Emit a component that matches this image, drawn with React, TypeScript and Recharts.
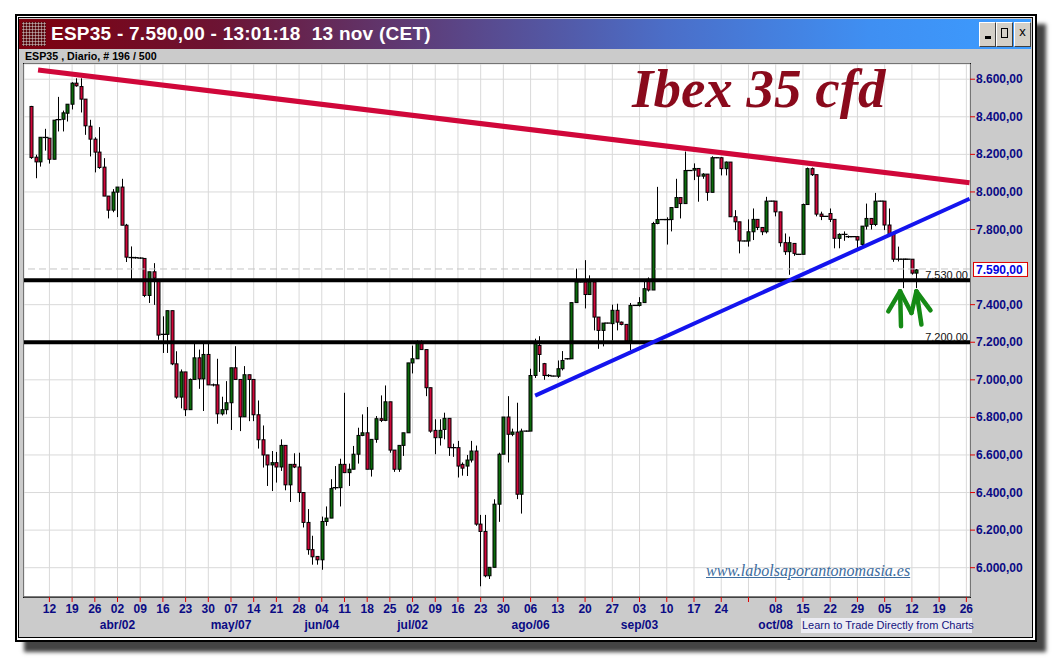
import React from 'react';
import { ComposedChart, Bar, XAxis, YAxis, CartesianGrid, ReferenceLine } from 'recharts';

// daily candles, bar 0 = 6 mar; from August the CFD also prints a short sunday bar
const opens = [
  8455, 8185, 8160, 8290, 8286, 8174, 8385, 8387, 8419, 8467,
  8579, 8561, 8494, 8350, 8281, 8212, 8132, 7978, 7903, 7999,
  8026, 7823, 7651, 7650, 7648, 7646, 7449, 7575, 7533, 7242,
  7242, 7368, 7085, 6908, 7042, 6841, 7002, 7117, 7005, 7135,
  6973, 6973, 6819, 6841, 6878, 7064, 7002, 6803, 7027, 7002,
  6814, 6681, 6600, 6547, 6559, 6536, 6651, 6441, 6550, 6536,
  6400, 6241, 6096, 6060, 6042, 6246, 6264, 6421, 6426, 6550,
  6506, 6524, 6604, 6704, 6718, 6524, 6683, 6793, 6784, 6883,
  6626, 6524, 6651, 6718, 7090, 7112, 7196, 7161, 6958, 6731,
  6692, 6736, 6795, 6639, 6639, 6550, 6541, 6573, 6621, 6232,
  6193, 5957, 6002, 6338, 6604, 6802, 6710, 6722, 6391, 6727,
  6727, 7023, 7183, 7086, 7023, 7020, 7019, 7059, 7112, 7112,
  7411, 7521, 7521, 7454, 7521, 7334, 7263, 7302, 7299, 7370,
  7307, 7295, 7206, 7396, 7396, 7411, 7535, 7478, 7832, 7853,
  7853, 7853, 7917, 7970, 7938, 8114, 8116, 8125, 8084, 8095,
  7998, 8182, 8182, 8124, 8159, 7868, 7841, 7739, 7739, 7788,
  7854, 7811, 7788, 7951, 7951, 7894, 7730, 7682, 7726, 7668,
  7668, 7933, 8124, 8092, 7882, 7870, 7885, 7854, 7753, 7768,
  7762, 7762, 7762, 7721, 7818, 7859, 7827, 7951, 7951, 7824,
  7779, 7642, 7642, 7642, 7642, 7568,
];
const highs = [
  8458, 8198, 8291, 8336, 8286, 8382, 8506, 8433, 8467, 8584,
  8605, 8605, 8494, 8384, 8291, 8345, 8180, 7978, 8015, 8026,
  8070, 7830, 7710, 7655, 7652, 7646, 7575, 7621, 7533, 7338,
  7368, 7368, 7152, 7055, 7042, 7007, 7196, 7161, 7196, 7196,
  6980, 7112, 6910, 6993, 7064, 7179, 7002, 7073, 7027, 7002,
  6890, 6757, 6600, 6621, 6616, 6683, 6651, 6550, 6609, 6612,
  6400, 6312, 6170, 6060, 6272, 6326, 6471, 6541, 6580, 6931,
  6554, 6648, 6745, 6816, 6855, 6683, 6807, 6917, 6970, 6883,
  6626, 6651, 6718, 7090, 7182, 7210, 7210, 7161, 6958, 6790,
  6790, 6825, 6795, 6660, 6675, 6560, 6600, 6675, 6650, 6281,
  6281, 6002, 6364, 6612, 6802, 6913, 6740, 6878, 6740, 6730,
  7059, 7219, 7232, 7090, 7030, 7022, 7103, 7153, 7115, 7411,
  7592, 7523, 7637, 7556, 7521, 7334, 7302, 7304, 7400, 7405,
  7310, 7295, 7409, 7398, 7440, 7521, 7545, 7841, 8027, 7855,
  7865, 7917, 8070, 7970, 8215, 8116, 8152, 8125, 8100, 8095,
  8190, 8184, 8185, 8162, 8159, 7903, 7841, 7741, 7854, 7912,
  7854, 7811, 7974, 7953, 7951, 7894, 7779, 7762, 7726, 7670,
  7938, 8130, 8130, 8092, 7895, 7872, 7912, 7854, 7780, 7790,
  7768, 7764, 7765, 7818, 7938, 7860, 7995, 7953, 7951, 7912,
  7779, 7709, 7645, 7644, 7642, 7590,
];
const lows = [
  8176, 8073, 8135, 8220, 8151, 8174, 8322, 8322, 8375, 8439,
  8560, 8423, 8304, 8189, 8104, 8123, 7978, 7859, 7892, 7866,
  7823, 7627, 7533, 7645, 7644, 7440, 7409, 7399, 7213, 7143,
  7143, 7078, 6899, 6848, 6807, 6841, 7002, 6952, 6834, 6973,
  6965, 6766, 6810, 6816, 6733, 7002, 6727, 6803, 6780, 6780,
  6634, 6533, 6435, 6408, 6453, 6515, 6412, 6350, 6530, 6350,
  6214, 6069, 6016, 6016, 5989, 6223, 6264, 6415, 6326, 6506,
  6435, 6524, 6554, 6700, 6524, 6485, 6665, 6775, 6780, 6612,
  6510, 6510, 6595, 6718, 7034, 7112, 7161, 6913, 6718, 6604,
  6650, 6683, 6595, 6590, 6480, 6490, 6488, 6560, 6223, 5901,
  5949, 5940, 6002, 6244, 6604, 6560, 6700, 6365, 6288, 6724,
  6727, 7010, 7042, 7000, 7015, 7018, 7010, 7050, 7108, 7112,
  7411, 7519, 7380, 7454, 7263, 7165, 7178, 7300, 7210, 7263,
  7290, 7192, 7157, 7394, 7390, 7411, 7470, 7478, 7828, 7851,
  7720, 7790, 7917, 7859, 7938, 8112, 8063, 7948, 8070, 7953,
  7998, 8180, 8088, 8088, 7868, 7797, 7673, 7737, 7709, 7744,
  7797, 7770, 7779, 7949, 7870, 7709, 7665, 7559, 7660, 7666,
  7668, 7933, 8085, 7870, 7850, 7868, 7840, 7700, 7700, 7740,
  7755, 7760, 7700, 7709, 7800, 7800, 7818, 7949, 7797, 7760,
  7628, 7630, 7488, 7640, 7560, 7488,
];
const closes = [
  8183, 8160, 8291, 8290, 8174, 8382, 8385, 8421, 8467, 8579,
  8565, 8494, 8352, 8281, 8212, 8130, 7978, 7903, 7999, 8026,
  7823, 7653, 7651, 7648, 7648, 7449, 7575, 7541, 7238, 7242,
  7368, 7085, 6908, 7042, 6841, 7002, 7117, 7005, 7135, 6973,
  6973, 6819, 6841, 6878, 7064, 7002, 6803, 7027, 7002, 6814,
  6681, 6600, 6547, 6559, 6536, 6651, 6441, 6550, 6536, 6400,
  6241, 6096, 6058, 6042, 6246, 6264, 6421, 6426, 6550, 6506,
  6524, 6604, 6704, 6718, 6524, 6683, 6793, 6784, 6883, 6626,
  6524, 6651, 6718, 7090, 7112, 7196, 7161, 6958, 6727, 6692,
  6731, 6795, 6639, 6639, 6541, 6530, 6573, 6621, 6232, 6193,
  5957, 6002, 6338, 6604, 6802, 6710, 6722, 6391, 6727, 6727,
  7023, 7192, 7135, 7023, 7023, 7020, 7059, 7103, 7112, 7411,
  7521, 7521, 7454, 7521, 7334, 7263, 7302, 7302, 7370, 7307,
  7295, 7206, 7396, 7396, 7411, 7485, 7478, 7832, 7853, 7853,
  7853, 7917, 7970, 7938, 8114, 8114, 8125, 8084, 8095, 7998,
  8182, 8182, 8124, 8159, 7868, 7841, 7739, 7739, 7788, 7854,
  7811, 7788, 7951, 7951, 7894, 7730, 7682, 7730, 7673, 7668,
  7933, 8124, 8092, 7882, 7870, 7870, 7854, 7753, 7774, 7774,
  7762, 7762, 7744, 7818, 7859, 7827, 7951, 7951, 7824, 7779,
  7642, 7642, 7642, 7642, 7568, 7585,
];

const weekTicks = [4, 9, 14, 19, 24, 29, 34, 39, 44, 49, 54, 59, 64, 69, 74, 79, 84, 89, 94, 99, 104,
  110, 116, 122, 128, 134, 140, 146, 152, 158, 164, 170, 176, 182, 188, 194, 200, 206];
const weekLabels = ['12', '19', '26', '02', '09', '16', '23', '30', '07', '14', '21', '28', '04', '11', '18',
  '25', '02', '09', '16', '23', '30', '06', '13', '20', '27', '03', '10', '17', '24', '', '08', '15', '22',
  '29', '05', '12', '19', '26'];
const monthTicks = [19, 44, 64, 84, 110, 134, 164];
const monthLabels = ['abr/02', 'may/07', 'jun/04', 'jul/02', 'ago/06', 'sep/03', 'oct/08'];
const priceTicks = [6000, 6200, 6400, 6600, 6800, 7000, 7200, 7400, 7800, 8000, 8200, 8400, 8600];

const resistanceLine = [{ x: 1.5, y: 8649 }, { x: 206.7, y: 8049 }];
const supportLine = [{ x: 111, y: 6916 }, { x: 206.7, y: 7964 }];
const levels = [7530, 7200];
const lastPrice = 7590;

// the two green arrows drawn under the last bars
const arrowStrokes = [
  [{ x: 191.6, y: 7285 }, { x: 191.4, y: 7471 }],
  [{ x: 188.8, y: 7364 }, { x: 191.4, y: 7471 }],
  [{ x: 191.4, y: 7471 }, { x: 193.9, y: 7356 }],
  [{ x: 193.9, y: 7356 }, { x: 195.0, y: 7471 }],
  [{ x: 195.0, y: 7471 }, { x: 196.1, y: 7294 }],
  [{ x: 195.0, y: 7471 }, { x: 198.1, y: 7370 }],
];

const data = opens.map((o, i) => ({
  k: i,
  o,
  h: highs[i],
  l: lows[i],
  c: closes[i],
  range: [lows[i], highs[i]],
}));

const NAVY = '#0a0a84';
const RED = '#d0073a';
const GREEN = '#0b6b0b';
const SANS = '"Liberation Sans", Arial, sans-serif';

const fmt = (v: number) => {
  const [i, d] = v.toFixed(2).split('.');
  return i.replace(/\B(?=(\d{3})+(?!\d))/g, '.') + ',' + d;
};

const Candle = (props: any) => {
  const { x, y, width, height, payload } = props;
  if (x == null || !payload) return null;
  const { o, h, l, c } = payload;
  const top = Math.min(y, y + height);
  const per = h > l ? Math.abs(height) / (h - l) : 0;
  const py = (v: number) => top + (h - v) * per;
  const cx = Math.round(x + width / 2) + 0.5;
  const bTop = py(Math.max(o, c));
  const bBot = py(Math.min(o, c));
  return (
    <g>
      <line x1={cx} x2={cx} y1={py(h)} y2={py(l)} stroke="#000" strokeWidth={1} />
      {bBot - bTop < 1.5 ? (
        <line x1={cx - 3} x2={cx + 3} y1={bTop} y2={bTop} stroke="#000" strokeWidth={1.3} />
      ) : (
        <rect x={cx - 1.5} y={bTop} width={3} height={bBot - bTop} fill={c > o ? GREEN : RED} stroke="#000" strokeWidth={1} />
      )}
    </g>
  );
};

const DayTick = (props: any) => {
  const { x, y, payload } = props;
  const i = weekTicks.indexOf(payload.value);
  const m = monthTicks.indexOf(payload.value);
  return (
    <g fontFamily={SANS} fontWeight="bold" fontSize={12} fill={NAVY}>
      <text x={x} y={y + 11} textAnchor="middle">{weekLabels[i]}</text>
      {m >= 0 && <text x={x} y={y + 27} textAnchor="middle">{monthLabels[m]}</text>}
    </g>
  );
};

const PriceTick = (props: any) => {
  const { x, y, payload } = props;
  return (
    <text x={x} y={y + 4} fontFamily={SANS} fontWeight="bold" fontSize={12} fill={NAVY}>
      {fmt(payload.value)}
    </text>
  );
};

const LevelLabel = (props: any) => {
  const { viewBox, value } = props;
  if (!viewBox) return null;
  return (
    <text x={viewBox.x + viewBox.width - 2} y={viewBox.y - 1} textAnchor="end" fontFamily={SANS} fontSize={11} fill="#111">
      {value}
    </text>
  );
};

const LastPriceLabel = (props: any) => {
  const { viewBox, value } = props;
  if (!viewBox) return null;
  const x0 = viewBox.x + viewBox.width + 3;
  return (
    <g>
      <rect x={x0 + 0.5} y={viewBox.y - 6.5} width={54} height={14} fill="#fff" stroke="#e00000" strokeWidth={1} />
      <text x={x0 + 3} y={viewBox.y + 5} fontFamily={SANS} fontWeight="bold" fontSize={12} fill="#0000e0">{value}</text>
    </g>
  );
};

const WinButton = ({ left, children }: { left: number; children: React.ReactNode }) => (
  <div
    style={{
      position: 'absolute', left, top: 22, width: 17, height: 25, boxSizing: 'border-box',
      background: '#d4d0c8', borderTop: '1px solid #fff', borderLeft: '1px solid #fff',
      borderRight: '1px solid #404040', borderBottom: '1px solid #404040',
      fontFamily: SANS, fontWeight: 'bold', fontSize: 12, color: '#000', textAlign: 'center', lineHeight: '18px',
    }}
  >
    {children}
  </div>
);

export default function App() {
  return (
    <div style={{ position: 'absolute', left: 0, top: 0, width: 1052, height: 658, background: '#fff', overflow: 'hidden' }}>
      {/* window frame */}
      <div style={{ position: 'absolute', left: 15, top: 14, width: 1022, height: 628, boxSizing: 'border-box', border: '2px solid #000', background: '#fff', boxShadow: '9px 10px 4px #444' }} />
      <div style={{ position: 'absolute', left: 18, top: 17, width: 1015, height: 621, boxSizing: 'border-box', border: '1px solid #000', background: '#cbcbcb' }} />
      <div
        style={{
          position: 'absolute', left: 19, top: 19, width: 1012, height: 30,
          background: 'linear-gradient(to right, #7e000e 0%, #6c1434 20%, #5a4688 44%, #4b6ec8 64%, #3f8ff2 84%, #3c9cff 100%)',
        }}
      />
      <div
        style={{
          position: 'absolute', left: 22, top: 22, width: 24, height: 24, background: '#5a0a10',
          backgroundImage: 'radial-gradient(#b9a5a5 0.9px, transparent 1.2px)', backgroundSize: '3px 3px',
        }}
      />
      <div style={{ position: 'absolute', left: 51, top: 22, fontFamily: SANS, fontWeight: 'bold', fontSize: 19, letterSpacing: 0.25, color: '#fff', whiteSpace: 'pre', lineHeight: '24px' }}>
        {'ESP35 - 7.590,00 - 13:01:18  13 nov (CET)'}
      </div>
      <WinButton left={979}>
        <span style={{ display: 'inline-block', width: 6, height: 3, background: '#000', marginTop: 13 }} />
      </WinButton>
      <WinButton left={996}>
        <span style={{ display: 'inline-block', width: 7, height: 10, border: '1.5px solid #000', marginTop: 5, boxSizing: 'border-box' }} />
      </WinButton>
      <WinButton left={1014}><span style={{ fontWeight: 'normal', fontSize: 13 }}>x</span></WinButton>
      <div style={{ position: 'absolute', left: 25, top: 50, fontFamily: SANS, fontWeight: 'bold', fontSize: 11, color: '#000', whiteSpace: 'pre', transform: 'scaleX(0.97)', transformOrigin: 'left', lineHeight: '12px' }}>
        {'ESP35 , Diario, # 196 / 500'}
      </div>
      {/* plot background */}
      <div style={{ position: 'absolute', left: 23, top: 63, width: 948, height: 535, boxSizing: 'border-box', border: '1px solid #111', background: '#fff' }} />

      <div style={{ position: 'absolute', left: 0, top: 0 }}>
        <ComposedChart width={1052} height={658} data={data} margin={{ top: 64, right: 22, bottom: 18, left: 24 }}>
          <CartesianGrid stroke="#d9d9d9" strokeWidth={1} />
          <XAxis
            type="number"
            dataKey="k"
            domain={[-1.6, 206.8]}
            allowDataOverflow
            ticks={weekTicks}
            interval={0}
            tick={DayTick}
            tickSize={5}
            tickMargin={0}
            tickLine={{ stroke: '#e00000' }}
            axisLine={{ stroke: '#111' }}
            height={43}
          />
          <YAxis
            orientation="right"
            type="number"
            domain={[5844, 8681]}
            allowDataOverflow
            ticks={priceTicks}
            interval={0}
            tick={PriceTick}
            tickSize={5}
            tickMargin={1}
            tickLine={{ stroke: '#e00000' }}
            axisLine={false}
            width={60}
          />
          <ReferenceLine y={lastPrice} stroke="#c4c4c4" strokeDasharray="7 4" label={<LastPriceLabel value={fmt(lastPrice)} />} />
          <Bar dataKey="range" shape={Candle} barSize={4} isAnimationActive={false} />
          {levels.map((v) => (
            <ReferenceLine key={v} y={v} stroke="#000" strokeWidth={4} label={<LevelLabel value={fmt(v)} />} />
          ))}
          <ReferenceLine segment={resistanceLine} stroke={RED} strokeWidth={5} />
          <ReferenceLine segment={supportLine} stroke="#1414ee" strokeWidth={4} />
          {arrowStrokes.map((s, i) => (
            <ReferenceLine key={i} segment={s} stroke="#158a15" strokeWidth={4.5} strokeLinecap="round" />
          ))}
        </ComposedChart>
      </div>

      <div style={{ position: 'absolute', left: 632, top: 61, fontFamily: '"Liberation Serif", "Times New Roman", serif', fontWeight: 'bold', fontStyle: 'italic', fontSize: 55, lineHeight: '55px', color: '#8a0a1c', whiteSpace: 'pre' }}>
        Ibex 35 cfd
      </div>
      <div style={{ position: 'absolute', left: 706, top: 563, fontFamily: '"Liberation Serif", "Times New Roman", serif', fontStyle: 'italic', fontSize: 16, lineHeight: '16px', color: '#3d6c9e', textDecoration: 'underline', whiteSpace: 'pre' }}>
        www.labolsaporantonomasia.es
      </div>
      <div style={{ position: 'absolute', left: 801, top: 618, width: 170, height: 15, background: '#ececf3', fontFamily: SANS, fontSize: 11, lineHeight: '15px', color: '#14147e', whiteSpace: 'pre', paddingLeft: 1 }}>
        Learn to Trade Directly from Charts
      </div>
    </div>
  );
}
